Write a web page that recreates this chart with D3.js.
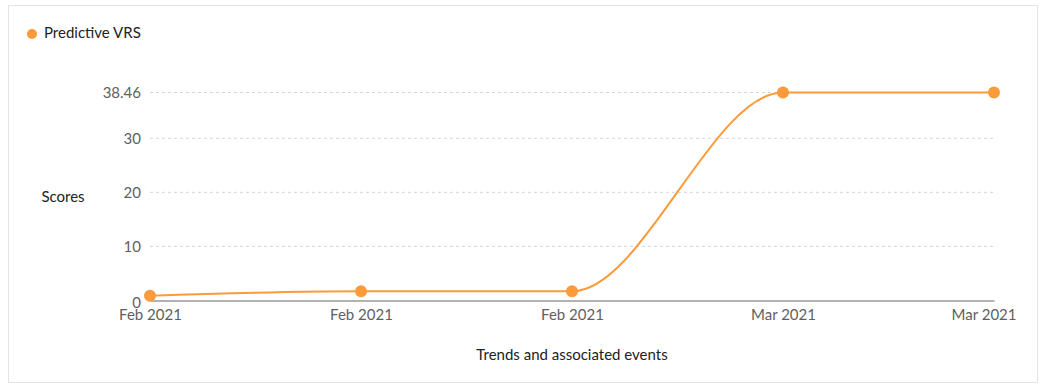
<!DOCTYPE html>
<html>
<head>
<meta charset="utf-8">
<script src="https://cdn.jsdelivr.net/npm/d3@7"></script>
<style>
	body { margin: 0; background: #fff; font-family: Lato, "Open Sans", sans-serif; }
	#chart svg { display: block; }
</style>
</head>
<body>
<div id="chart"></div>
<script>
var categories = ["Feb 2021", "Feb 2021", "Feb 2021", "Mar 2021", "Mar 2021"];
var vrsValues = [0.9, 1.7, 1.7, 38.46, 38.46];
var yTicks = [0, 10, 20, 30, 38.46];
var seriesName = "Predictive VRS";

var w = 1045, h = 388;
var orange = "#fd9a3b";

var svg = d3.select("#chart").append("svg")
	.attr("width", w)
	.attr("height", h)

// panel border
svg.append("rect")
	.attr("x", 8.5)
	.attr("y", 5.5)
	.attr("width", 1029)
	.attr("height", 377)
	.style("fill", "none")
	.style("stroke", "#e3e3e3")

var x = d3.scalePoint()
	.domain(d3.range(categories.length))
	.range([150, 994])

var y = d3.scaleLinear()
	.domain([0, 38.46])
	.range([300.5, 92.5])

// grid lines
svg.selectAll(".grid")
	.data(yTicks.filter(function(d) { return d > 0 }))
	.enter()
	.append("line")
	.attr("class", "grid")
	.attr("x1", 150)
	.attr("x2", 994)
	.attr("y1", function(d) { return y(d) })
	.attr("y2", function(d) { return y(d) })
	.style("stroke", "#d6d6d6")
	.style("stroke-dasharray", "3,3")

// y axis
var yAxis = d3.axisLeft(y).tickValues(yTicks).tickSize(0).tickPadding(9)
	.tickFormat(function(d) { return d == 38.46 ? "38.46" : d3.format("d")(d) });
var gy = svg.append("g")
	.attr("transform", "translate(150, 0)")
	.call(yAxis)
gy.select(".domain").remove();
gy.selectAll("text")
	.style("font-family", "Lato, sans-serif")
	.style("font-size", "15px")
	.style("fill", "#5f5f5f")
gy.selectAll(".tick")
	.filter(function(d) { return d == 0 })
	.select("text")
	.attr("x", -9)
	.attr("dy", "0.45em")

// x axis
var xAxis = d3.axisBottom(x).tickSize(0).tickPadding(9)
	.tickFormat(function(i) { return categories[i] });
var gx = svg.append("g")
	.attr("transform", "translate(0, 300.5)")
	.call(xAxis)
gx.select(".domain")
	.style("stroke", "#999")
	.style("stroke-width", 1.5)
gx.selectAll("text")
	.style("font-family", "Lato, sans-serif")
	.style("font-size", "15px")
	.style("fill", "#5f5f5f")

// keep the last label inside the plot edge
gx.selectAll(".tick text").each(function(i) {
	var len = this.getComputedTextLength();
	var right = x(i) + len / 2;
	if (right > 1016) d3.select(this).attr("x", 1016 - right);
})

// axis titles
svg.append("text")
	.text("Scores")
	.attr("x", 63)
	.attr("y", 202)
	.style("text-anchor", "middle")
	.style("font-size", "15px")
	.style("fill", "#222")

svg.append("text")
	.text("Trends and associated events")
	.attr("x", 572)
	.attr("y", 360)
	.style("text-anchor", "middle")
	.style("font-size", "15px")
	.style("fill", "#222")

// line
var line = d3.line()
	.x(function(d, i) { return x(i) })
	.y(function(d) { return y(d) })
	.curve(d3.curveMonotoneX)

svg.append("path")
	.datum(vrsValues)
	.attr("d", line)
	.style("fill", "none")
	.style("stroke", orange)
	.style("stroke-width", 2)

svg.selectAll(".dot")
	.data(vrsValues)
	.enter()
	.append("circle")
	.attr("class", "dot")
	.attr("r", 6)
	.attr("cx", function(d, i) { return x(i) })
	.attr("cy", function(d) { return y(d) })
	.style("fill", orange)

// legend
svg.append("circle")
	.attr("cx", 32)
	.attr("cy", 34)
	.attr("r", 5)
	.style("fill", orange)

svg.append("text")
	.text(seriesName)
	.attr("x", 44)
	.attr("y", 38)
	.style("font-size", "15px")
	.style("fill", "#222")
</script>
</body>
</html>
